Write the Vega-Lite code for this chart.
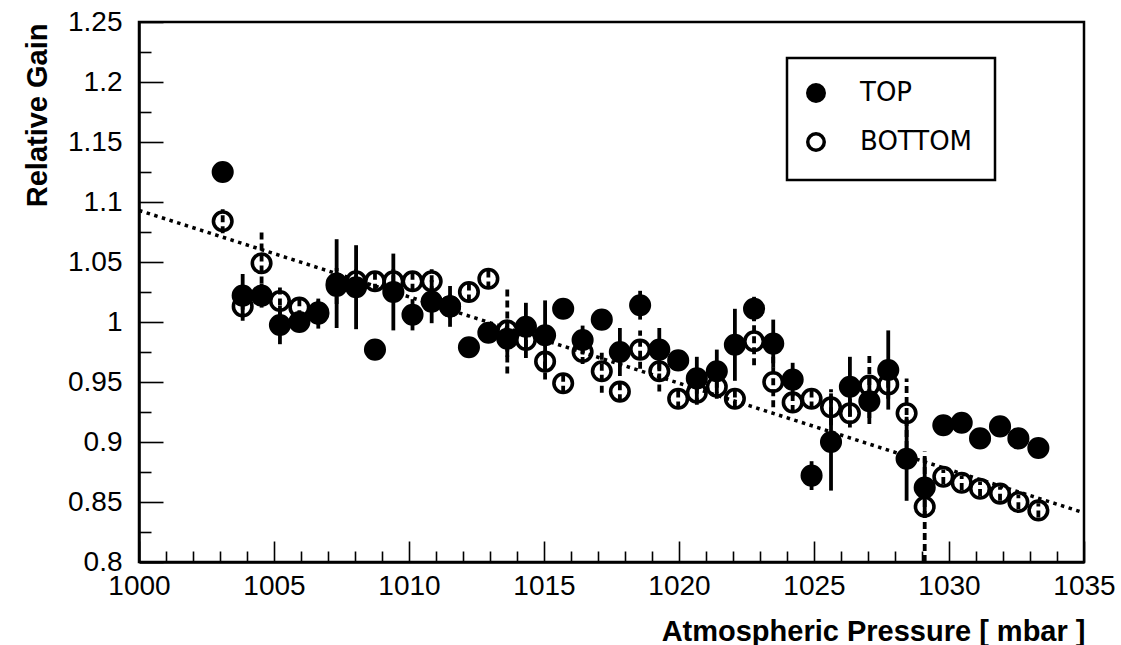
{
  "$schema": "https://vega.github.io/schema/vega-lite/v6.json",
  "width": 945,
  "height": 540,
  "autosize": {"type": "none"},
  "padding": {"left": 139, "top": 22, "right": 37, "bottom": 83},
  "background": "white",
  "config": {
    "font": "Liberation Sans",
    "view": {"stroke": "black", "strokeWidth": 2.5},
    "axis": {"grid": false, "domainColor": "black", "domainWidth": 2.5, "tickColor": "black", "tickWidth": 1.6, "labelColor": "black", "titleColor": "black", "labelOverlap": false, "labelFlush": false},
    "legend": {"strokeColor": "black", "strokeWidth": 2.5}
  },
  "datasets": {
    "pts": [
      {"p": 1003.10, "g": 1.084, "e": 0.010, "s": "BOTTOM"},
      {"p": 1003.84, "g": 1.013, "e": 0.012, "s": "BOTTOM"},
      {"p": 1004.54, "g": 1.049, "e": 0.026, "s": "BOTTOM"},
      {"p": 1005.22, "g": 1.0175, "e": 0.013, "s": "BOTTOM"},
      {"p": 1005.94, "g": 1.012, "e": 0.008, "s": "BOTTOM"},
      {"p": 1006.64, "g": 1.008, "e": 0.010, "s": "BOTTOM"},
      {"p": 1007.32, "g": 1.030, "e": 0.015, "s": "BOTTOM"},
      {"p": 1008.04, "g": 1.034, "e": 0.010, "s": "BOTTOM"},
      {"p": 1008.74, "g": 1.034, "e": 0.008, "s": "BOTTOM"},
      {"p": 1009.42, "g": 1.034, "e": 0.010, "s": "BOTTOM"},
      {"p": 1010.13, "g": 1.034, "e": 0.008, "s": "BOTTOM"},
      {"p": 1010.84, "g": 1.034, "e": 0.010, "s": "BOTTOM"},
      {"p": 1011.52, "g": 1.013, "e": 0.010, "s": "BOTTOM"},
      {"p": 1012.22, "g": 1.025, "e": 0.008, "s": "BOTTOM"},
      {"p": 1012.94, "g": 1.036, "e": 0.008, "s": "BOTTOM"},
      {"p": 1013.64, "g": 0.993, "e": 0.036, "s": "BOTTOM"},
      {"p": 1014.33, "g": 0.985, "e": 0.015, "s": "BOTTOM"},
      {"p": 1015.04, "g": 0.967, "e": 0.015, "s": "BOTTOM"},
      {"p": 1015.71, "g": 0.949, "e": 0.008, "s": "BOTTOM"},
      {"p": 1016.43, "g": 0.975, "e": 0.010, "s": "BOTTOM"},
      {"p": 1017.14, "g": 0.959, "e": 0.018, "s": "BOTTOM"},
      {"p": 1017.81, "g": 0.942, "e": 0.008, "s": "BOTTOM"},
      {"p": 1018.56, "g": 0.977, "e": 0.016, "s": "BOTTOM"},
      {"p": 1019.27, "g": 0.959, "e": 0.017, "s": "BOTTOM"},
      {"p": 1019.97, "g": 0.936, "e": 0.008, "s": "BOTTOM"},
      {"p": 1020.66, "g": 0.941, "e": 0.010, "s": "BOTTOM"},
      {"p": 1021.40, "g": 0.946, "e": 0.010, "s": "BOTTOM"},
      {"p": 1022.07, "g": 0.936, "e": 0.008, "s": "BOTTOM"},
      {"p": 1022.78, "g": 0.984, "e": 0.020, "s": "BOTTOM"},
      {"p": 1023.49, "g": 0.950, "e": 0.021, "s": "BOTTOM"},
      {"p": 1024.21, "g": 0.933, "e": 0.008, "s": "BOTTOM"},
      {"p": 1024.91, "g": 0.936, "e": 0.008, "s": "BOTTOM"},
      {"p": 1025.63, "g": 0.929, "e": 0.015, "s": "BOTTOM"},
      {"p": 1026.33, "g": 0.924, "e": 0.012, "s": "BOTTOM"},
      {"p": 1027.05, "g": 0.947, "e": 0.027, "s": "BOTTOM"},
      {"p": 1027.75, "g": 0.948, "e": 0.012, "s": "BOTTOM"},
      {"p": 1028.43, "g": 0.924, "e": 0.029, "s": "BOTTOM"},
      {"p": 1029.10, "g": 0.846, "e": 0.046, "s": "BOTTOM"},
      {"p": 1029.79, "g": 0.871, "e": 0.006, "s": "BOTTOM"},
      {"p": 1030.47, "g": 0.866, "e": 0.006, "s": "BOTTOM"},
      {"p": 1031.15, "g": 0.861, "e": 0.006, "s": "BOTTOM"},
      {"p": 1031.89, "g": 0.857, "e": 0.006, "s": "BOTTOM"},
      {"p": 1032.57, "g": 0.850, "e": 0.006, "s": "BOTTOM"},
      {"p": 1033.31, "g": 0.843, "e": 0.006, "s": "BOTTOM"},
      {"p": 1003.10, "g": 1.125, "e": 0, "s": "TOP"},
      {"p": 1003.84, "g": 1.022, "e": 0.018, "s": "TOP"},
      {"p": 1004.54, "g": 1.022, "e": 0.010, "s": "TOP"},
      {"p": 1005.22, "g": 0.9975, "e": 0.016, "s": "TOP"},
      {"p": 1005.94, "g": 1.000, "e": 0.008, "s": "TOP"},
      {"p": 1006.64, "g": 1.007, "e": 0.0125, "s": "TOP"},
      {"p": 1007.32, "g": 1.032, "e": 0.037, "s": "TOP"},
      {"p": 1008.04, "g": 1.029, "e": 0.035, "s": "TOP"},
      {"p": 1008.74, "g": 0.977, "e": 0, "s": "TOP"},
      {"p": 1009.42, "g": 1.025, "e": 0.032, "s": "TOP"},
      {"p": 1010.13, "g": 1.006, "e": 0.013, "s": "TOP"},
      {"p": 1010.84, "g": 1.017, "e": 0.018, "s": "TOP"},
      {"p": 1011.52, "g": 1.013, "e": 0.017, "s": "TOP"},
      {"p": 1012.22, "g": 0.979, "e": 0, "s": "TOP"},
      {"p": 1012.94, "g": 0.991, "e": 0.008, "s": "TOP"},
      {"p": 1013.64, "g": 0.986, "e": 0.015, "s": "TOP"},
      {"p": 1014.33, "g": 0.996, "e": 0.020, "s": "TOP"},
      {"p": 1015.04, "g": 0.989, "e": 0.029, "s": "TOP"},
      {"p": 1015.71, "g": 1.011, "e": 0, "s": "TOP"},
      {"p": 1016.43, "g": 0.985, "e": 0.012, "s": "TOP"},
      {"p": 1017.14, "g": 1.002, "e": 0, "s": "TOP"},
      {"p": 1017.81, "g": 0.975, "e": 0.020, "s": "TOP"},
      {"p": 1018.56, "g": 1.014, "e": 0.012, "s": "TOP"},
      {"p": 1019.27, "g": 0.977, "e": 0.018, "s": "TOP"},
      {"p": 1019.97, "g": 0.968, "e": 0.008, "s": "TOP"},
      {"p": 1020.66, "g": 0.953, "e": 0.018, "s": "TOP"},
      {"p": 1021.40, "g": 0.959, "e": 0.018, "s": "TOP"},
      {"p": 1022.07, "g": 0.981, "e": 0.030, "s": "TOP"},
      {"p": 1022.78, "g": 1.011, "e": 0.010, "s": "TOP"},
      {"p": 1023.49, "g": 0.982, "e": 0.020, "s": "TOP"},
      {"p": 1024.21, "g": 0.952, "e": 0.014, "s": "TOP"},
      {"p": 1024.91, "g": 0.872, "e": 0.012, "s": "TOP"},
      {"p": 1025.63, "g": 0.900, "e": 0.0405, "s": "TOP"},
      {"p": 1026.33, "g": 0.946, "e": 0.025, "s": "TOP"},
      {"p": 1027.05, "g": 0.934, "e": 0.019, "s": "TOP"},
      {"p": 1027.75, "g": 0.960, "e": 0.033, "s": "TOP"},
      {"p": 1028.43, "g": 0.886, "e": 0.035, "s": "TOP"},
      {"p": 1029.10, "g": 0.862, "e": 0.025, "s": "TOP"},
      {"p": 1029.79, "g": 0.914, "e": 0, "s": "TOP"},
      {"p": 1030.47, "g": 0.916, "e": 0, "s": "TOP"},
      {"p": 1031.15, "g": 0.903, "e": 0, "s": "TOP"},
      {"p": 1031.89, "g": 0.913, "e": 0, "s": "TOP"},
      {"p": 1032.57, "g": 0.903, "e": 0, "s": "TOP"},
      {"p": 1033.31, "g": 0.895, "e": 0, "s": "TOP"}
    ],
    "fit": [
      {"p": 1000, "g": 1.093},
      {"p": 1035, "g": 0.841}
    ]
  },
  "encoding": {
    "x": {
      "field": "p", "type": "quantitative",
      "scale": {"domain": [1000, 1035], "nice": false, "zero": false},
      "axis": {
        "values": [1000,1001,1002,1003,1004,1005,1006,1007,1008,1009,1010,1011,1012,1013,1014,1015,1016,1017,1018,1019,1020,1021,1022,1023,1024,1025,1026,1027,1028,1029,1030,1031,1032,1033,1034,1035],
        "tickSize": {"condition": {"test": "datum.value % 5 === 0", "value": -21}, "value": -11},
        "labelExpr": "datum.value % 5 === 0 ? format(datum.value, 'd') : ''",
        "labelFontSize": 28,
        "labelPadding": 31,
        "title": "Atmospheric Pressure [ mbar ]",
        "titleFontSize": 29,
        "titleFontWeight": "bold",
        "titleAlign": "right",
        "titleAnchor": "end",
        "titleX": 946,
        "titleY": 78,
        "titleBaseline": "alphabetic"
      }
    },
    "y": {
      "field": "g", "type": "quantitative",
      "scale": {"domain": [0.8, 1.25], "nice": false, "zero": false},
      "axis": {
        "values": [0.8,0.825,0.85,0.875,0.9,0.925,0.95,0.975,1.0,1.025,1.05,1.075,1.1,1.125,1.15,1.175,1.2,1.225,1.25],
        "tickSize": {"condition": {"test": "abs(datum.value*20 - round(datum.value*20)) < 0.01", "value": -24}, "value": -12},
        "labelExpr": "abs(datum.value*20 - round(datum.value*20)) < 0.01 ? format(datum.value, '~g') : ''",
        "labelFontSize": 28,
        "labelPadding": 41,
        "title": "Relative Gain",
        "titleFontSize": 29,
        "titleFontWeight": "bold",
        "titleAngle": -90,
        "titleAlign": "right",
        "titleAnchor": "end",
        "titleBaseline": "top",
        "titleX": -116,
        "titleY": 1
      }
    }
  },
  "layer": [
    {
      "data": {"name": "fit"},
      "mark": {"type": "line", "color": "black", "strokeWidth": 3.5, "strokeDash": [3.5, 4.5]},
      "encoding": {}
    },
    {
      "data": {"name": "pts"},
      "transform": [{"filter": "datum.s === 'BOTTOM'"}],
      "mark": {"type": "errorbar", "thickness": 3.8, "color": "black", "rule": {"strokeDash": [7, 4]}},
      "encoding": {"yError": {"field": "e"}}
    },
    {
      "data": {"name": "pts"},
      "transform": [{"filter": "datum.s === 'TOP'"}],
      "mark": {"type": "errorbar", "thickness": 3.8, "color": "black"},
      "encoding": {"yError": {"field": "e"}}
    },
    {
      "data": {"name": "pts"},
      "mark": {"type": "point", "shape": "circle", "size": 342, "strokeWidth": 3.6, "stroke": "black", "opacity": 1},
      "encoding": {
        "fill": {
          "field": "s", "type": "nominal",
          "scale": {"domain": ["TOP", "BOTTOM"], "range": ["black", "transparent"]},
          "legend": {
            "title": null,
            "orient": "none",
            "legendX": 648,
            "legendY": 36,
            "padding": 22,
            "strokeColor": "black",
            "fillColor": "white",
            "symbolType": "circle",
            "symbolSize": 272,
            "symbolStrokeColor": "black",
            "symbolStrokeWidth": 3.5,
            "symbolOffset": -6,
            "labelFontSize": 26,
            "labelFont": "DejaVu Sans",
            "labelColor": "black",
            "labelOffset": 31,
            "rowPadding": 17
          }
        }
      }
    }
  ]
}
